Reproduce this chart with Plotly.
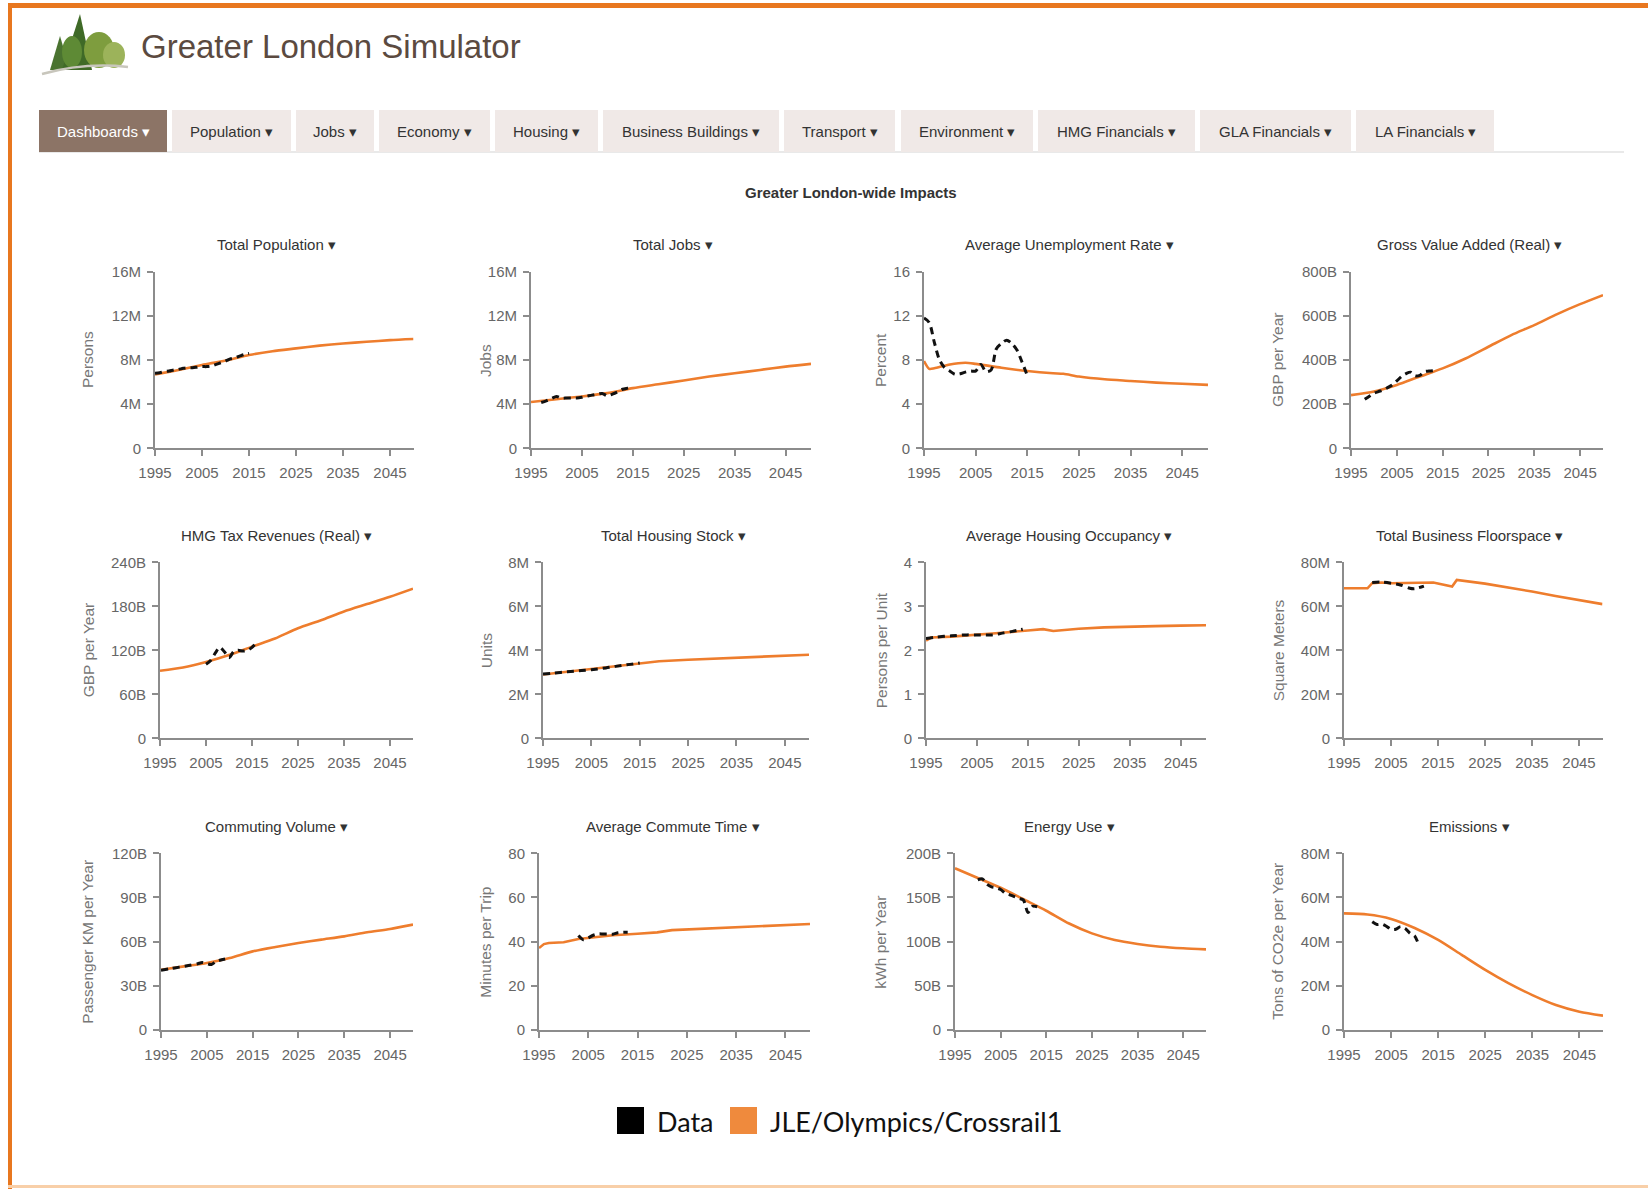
import plotly.graph_objects as go

W, H = 1648, 1189
ORANGE = "#EE7D2D"
BLACK = "#111111"
AXIS = "#8c8c8c"
TICKC = "#666666"
FONT = "Liberation Sans, Arial, sans-serif"

# ---------------- data ----------------
YEARS5 = [1995, 2000, 2005, 2010, 2015, 2020, 2025, 2030, 2035, 2040, 2045, 2050]
X_TICKS = [1995, 2005, 2015, 2025, 2035, 2045]

# Total Population (M)
pop_model = [6.7, 7.1, 7.55, 7.95, 8.45, 8.8, 9.05, 9.3, 9.5, 9.65, 9.8, 9.9]
pop_data_years = list(range(1995, 2016))
pop_data = [6.8, 6.85, 6.95, 7.0, 7.1, 7.15, 7.25, 7.3, 7.3, 7.35, 7.4, 7.4, 7.45, 7.6,
            7.75, 7.9, 8.1, 8.2, 8.35, 8.5, 8.6]

# Total Jobs (M)
jobs_model = [4.2, 4.45, 4.7, 5.0, 5.45, 5.8, 6.15, 6.5, 6.8, 7.1, 7.4, 7.65]
jobs_data_years = list(range(1997, 2016))
jobs_data = [4.15, 4.3, 4.5, 4.7, 4.55, 4.55, 4.55, 4.55, 4.62, 4.72, 4.82, 4.9, 4.97,
             4.75, 4.9, 5.1, 5.35, 5.45, 5.55]

# Average Unemployment Rate (%)
unemp_model_years = [1995, 1996, 1997, 2000, 2003, 2005, 2010, 2015, 2020, 2022, 2025,
                     2030, 2035, 2040, 2045, 2050]
unemp_model = [7.9, 7.2, 7.25, 7.6, 7.75, 7.65, 7.3, 7.0, 6.8, 6.75, 6.5, 6.25, 6.1,
               5.95, 5.85, 5.75]
unemp_data_years = list(range(1995, 2016))
unemp_data = [11.8, 11.4, 9.6, 8.0, 7.3, 7.0, 6.7, 6.75, 6.9, 7.0, 7.0, 7.6, 6.95, 7.1,
              9.0, 9.5, 9.8, 9.5, 8.9, 7.8, 6.6]

# Gross Value Added (B GBP)
gva_model = [241, 257, 287, 325, 362, 407, 460, 513, 558, 608, 653, 694]
gva_data_years = list(range(1998, 2014))
gva_data = [222, 236, 249, 257, 264, 275, 287, 305, 325, 338, 345, 328, 330, 347, 350, 352]

# HMG Tax Revenues (B GBP)
tax_model = [92, 96.5, 104, 113.5, 125, 136, 150, 161, 173, 183, 193, 204]
tax_data_years = list(range(2005, 2017))
tax_data = [101, 106, 116, 124, 118, 110, 118, 120, 119, 120, 124, 131]

# Total Housing Stock (M units)
housing_model_years = [1995, 2000, 2005, 2010, 2015, 2017, 2019, 2025, 2030, 2035, 2040,
                       2045, 2050]
housing_model = [2.9, 3.02, 3.13, 3.26, 3.39, 3.42, 3.5, 3.57, 3.62, 3.67, 3.72, 3.76, 3.8]
housing_data_years = [1995, 1997, 2000, 2003, 2005, 2008, 2010, 2013, 2015]
housing_data = [2.92, 2.96, 3.02, 3.08, 3.12, 3.2, 3.27, 3.36, 3.42]

# Average Housing Occupancy (persons per unit)
occ_model_years = [1995, 1996, 2000, 2005, 2010, 2015, 2018, 2020, 2025, 2030, 2035, 2040,
                   2045, 2050]
occ_model = [2.22, 2.29, 2.31, 2.35, 2.40, 2.45, 2.48, 2.44, 2.49, 2.52, 2.54, 2.55, 2.56, 2.57]
occ_data_years = [1995, 1997, 2000, 2003, 2005, 2008, 2010, 2012, 2014]
occ_data = [2.27, 2.30, 2.33, 2.35, 2.35, 2.35, 2.39, 2.43, 2.48]

# Total Business Floorspace (M sq m)
floor_model_years = [1995, 2000, 2001, 2003, 2005, 2010, 2014, 2018, 2019, 2025, 2030,
                     2035, 2040, 2045, 2050]
floor_model = [68.2, 68.2, 70.5, 70.8, 70.5, 70.5, 70.8, 69.0, 72.0, 70.3, 68.6, 66.7,
               64.7, 62.9, 61.0]
floor_data_years = [2001, 2003, 2005, 2007, 2009, 2010, 2012]
floor_data = [70.8, 71.0, 70.5, 69.7, 68.2, 68.0, 69.2]

# Commuting Volume (B passenger km)
commute_model = [40.9, 43.2, 45.5, 48.9, 53.4, 56.4, 59.1, 61.4, 63.6, 66.4, 68.6, 71.6]
commute_data_years = [1995, 1997, 1999, 2001, 2003, 2004, 2006, 2007, 2009]
commute_data = [40.5, 41.6, 42.7, 43.8, 45.0, 45.8, 44.5, 46.5, 48.2]

# Average Commute Time (minutes)
ctime_model_years = [1995, 1996, 1997, 2000, 2003, 2005, 2010, 2015, 2019, 2022, 2025,
                     2030, 2035, 2040, 2045, 2050]
ctime_model = [37.1, 38.9, 39.4, 39.7, 41.2, 41.7, 42.9, 43.6, 44.2, 45.2, 45.5, 46.2,
               46.7, 47.3, 47.6, 48.0]
ctime_data_years = list(range(2003, 2014))
ctime_data = [42.8, 40.9, 41.7, 42.9, 43.5, 43.5, 43.5, 43.4, 44.0, 44.2, 44.2]

# Energy Use (B kWh)
energy_model = [183, 172, 161, 148, 135, 120.5, 109.4, 101.9, 97.4, 94.3, 92.5, 91.3]
energy_data_years = list(range(2000, 2014))
energy_data = [170, 171, 165, 162, 161, 159, 155, 153, 151, 149, 147, 133, 140, 139.5]

# Emissions (M tons CO2e)
emis_model = [52.8, 52.3, 50.3, 46.2, 40.8, 34.0, 27.2, 21.1, 15.8, 11.3, 8.3, 6.5]
emis_data_years = list(range(2001, 2012))
emis_data = [49, 47.8, 48, 47, 45.6, 45.6, 46.8, 46, 43.8, 42.6, 37.8]

TABS = ["Dashboards", "Population", "Jobs", "Economy", "Housing", "Business Buildings",
        "Transport", "Environment", "HMG Financials", "GLA Financials", "LA Financials"]

panels = [
    dict(title="Total Population", ytitle="Persons", top=16, tv=[0, 4, 8, 12, 16],
         tt=["0", "4M", "8M", "12M", "16M"], mx=YEARS5, my=pop_model,
         dx=pop_data_years, dy=pop_data, smooth=True),
    dict(title="Total Jobs", ytitle="Jobs", top=16, tv=[0, 4, 8, 12, 16],
         tt=["0", "4M", "8M", "12M", "16M"], mx=YEARS5, my=jobs_model,
         dx=jobs_data_years, dy=jobs_data, smooth=True),
    dict(title="Average Unemployment Rate", ytitle="Percent", top=16, tv=[0, 4, 8, 12, 16],
         tt=["0", "4", "8", "12", "16"], mx=unemp_model_years, my=unemp_model,
         dx=unemp_data_years, dy=unemp_data, smooth=True),
    dict(title="Gross Value Added (Real)", ytitle="GBP per Year", top=800,
         tv=[0, 200, 400, 600, 800], tt=["0", "200B", "400B", "600B", "800B"],
         mx=YEARS5, my=gva_model, dx=gva_data_years, dy=gva_data, smooth=True),
    dict(title="HMG Tax Revenues (Real)", ytitle="GBP per Year", top=240,
         tv=[0, 60, 120, 180, 240], tt=["0", "60B", "120B", "180B", "240B"],
         mx=YEARS5, my=tax_model, dx=tax_data_years, dy=tax_data, smooth=True),
    dict(title="Total Housing Stock", ytitle="Units", top=8, tv=[0, 2, 4, 6, 8],
         tt=["0", "2M", "4M", "6M", "8M"], mx=housing_model_years, my=housing_model,
         dx=housing_data_years, dy=housing_data, smooth=False),
    dict(title="Average Housing Occupancy", ytitle="Persons per Unit", top=4,
         tv=[0, 1, 2, 3, 4], tt=["0", "1", "2", "3", "4"], mx=occ_model_years,
         my=occ_model, dx=occ_data_years, dy=occ_data, smooth=False),
    dict(title="Total Business Floorspace", ytitle="Square Meters", top=80,
         tv=[0, 20, 40, 60, 80], tt=["0", "20M", "40M", "60M", "80M"],
         mx=floor_model_years, my=floor_model, dx=floor_data_years, dy=floor_data,
         smooth=False),
    dict(title="Commuting Volume", ytitle="Passenger KM per Year", top=120,
         tv=[0, 30, 60, 90, 120], tt=["0", "30B", "60B", "90B", "120B"],
         mx=YEARS5, my=commute_model, dx=commute_data_years, dy=commute_data, smooth=True),
    dict(title="Average Commute Time", ytitle="Minutes per Trip", top=80,
         tv=[0, 20, 40, 60, 80], tt=["0", "20", "40", "60", "80"], mx=ctime_model_years,
         my=ctime_model, dx=ctime_data_years, dy=ctime_data, smooth=False),
    dict(title="Energy Use", ytitle="kWh per Year", top=200, tv=[0, 50, 100, 150, 200],
         tt=["0", "50B", "100B", "150B", "200B"], mx=YEARS5, my=energy_model,
         dx=energy_data_years, dy=energy_data, smooth=True),
    dict(title="Emissions", ytitle="Tons of CO2e per Year", top=80,
         tv=[0, 20, 40, 60, 80], tt=["0", "20M", "40M", "60M", "80M"], mx=YEARS5,
         my=emis_model, dx=emis_data_years, dy=emis_data, smooth=True),
]

# ---------------- layout geometry (page pixels) ----------------
X_SPANS = [(155, 413.5), (531, 811), (924, 1208), (1351, 1603),
           (160, 413), (543, 809), (926, 1206), (1344, 1602.5),
           (161, 413), (539, 810), (955, 1206), (1344, 1603)]
ROWS = [(271.7, 448.3), (562.3, 738.3), (853.3, 1030)]
TITLE_X = [276, 673, 1069, 1469]
YTITLE_X = [88, 486, 881, 1278]


def px(x):
    return x / W


def py(y):
    return 1 - y / H


fig = go.Figure()
layout = dict(width=W, height=H,
              margin=dict(l=0, r=0, t=0, b=0, pad=0, autoexpand=False),
              paper_bgcolor="white", plot_bgcolor="white", showlegend=False,
              font=dict(family=FONT, color="#333"))
annotations = []
shapes = []

for i, p in enumerate(panels):
    n = i + 1
    sfx = "" if n == 1 else str(n)
    r, c = divmod(i, 4)
    x0, x1 = X_SPANS[i]
    ytop, ybot = ROWS[r]
    fig.add_trace(go.Scatter(
        x=p["mx"], y=p["my"], mode="lines", xaxis="x" + sfx, yaxis="y" + sfx,
        line=dict(color=ORANGE, width=2.6,
                  shape="spline" if p["smooth"] else "linear", smoothing=0.7),
        hoverinfo="skip"))
    fig.add_trace(go.Scatter(
        x=p["dx"], y=p["dy"], mode="lines", xaxis="x" + sfx, yaxis="y" + sfx,
        line=dict(color=BLACK, width=3, dash="7px,5px", shape="spline", smoothing=0.8),
        hoverinfo="skip"))
    layout["xaxis" + sfx] = dict(
        domain=[px(x0), px(x1)], range=[1995, 2050], anchor="y" + sfx,
        tickvals=X_TICKS, ticktext=[str(v) for v in X_TICKS],
        showline=True, linecolor=AXIS, linewidth=2, ticks="outside", ticklen=6,
        tickwidth=1.5, tickcolor=AXIS, showgrid=False, zeroline=False, automargin=False,
        tickfont=dict(family=FONT, size=15, color=TICKC), ticklabelstandoff=4,
        fixedrange=True)
    layout["yaxis" + sfx] = dict(
        domain=[py(ybot), py(ytop)], range=[0, p["top"]], anchor="x" + sfx,
        tickvals=p["tv"], ticktext=p["tt"],
        showline=True, linecolor=AXIS, linewidth=2, ticks="outside", ticklen=6,
        tickwidth=1.5, tickcolor=AXIS, showgrid=False, zeroline=False, automargin=False,
        tickfont=dict(family=FONT, size=15, color=TICKC), ticklabelstandoff=3,
        fixedrange=True)
    annotations.append(dict(
        x=px(TITLE_X[c]), y=py(ytop - 27), xref="paper", yref="paper",
        text=p["title"] + " \u25BE", showarrow=False, xanchor="center", yanchor="middle",
        font=dict(family=FONT, size=15, color="#333")))
    annotations.append(dict(
        x=px(YTITLE_X[c]), y=py((ytop + ybot) / 2), xref="paper", yref="paper",
        text=p["ytitle"], textangle=-90, showarrow=False, xanchor="center",
        yanchor="middle", font=dict(family=FONT, size=15.5, color="#777")))

# ---------------- page frame ----------------
shapes.append(dict(type="rect", xref="paper", yref="paper", x0=px(8), x1=1,
                   y0=py(8), y1=py(3), fillcolor="#E8771F", line=dict(width=0)))
shapes.append(dict(type="rect", xref="paper", yref="paper", x0=px(8), x1=px(12),
                   y0=py(1189), y1=py(3), fillcolor="#E8771F", line=dict(width=0)))
shapes.append(dict(type="rect", xref="paper", yref="paper", x0=px(8), x1=1,
                   y0=py(1188), y1=py(1185), fillcolor="#F8CFA8", line=dict(width=0)))


# logo (simple trees)
def ell(cx, cy, rx, ry, color):
    return dict(type="circle", xref="paper", yref="paper", x0=px(cx - rx), x1=px(cx + rx),
                y0=py(cy + ry), y1=py(cy - ry), fillcolor=color, line=dict(width=0))


def tri(pts, color):
    path = "M " + " L ".join(f"{px(a)},{py(b)}" for a, b in pts) + " Z"
    return dict(type="path", xref="paper", yref="paper", path=path, fillcolor=color,
                line=dict(width=0))


shapes.append(tri([(50, 70), (60, 36), (70, 70)], "#4A7330"))
shapes.append(tri([(62, 70), (80, 14), (92, 70)], "#3F6A27"))
shapes.append(ell(99, 50, 15, 18, "#7E9D3E"))
shapes.append(ell(114, 55, 11, 13, "#9CB35A"))
shapes.append(ell(72, 52, 10, 16, "#5E8A35"))
shapes.append(dict(type="path", xref="paper", yref="paper",
                   path=f"M {px(42)},{py(74)} Q {px(85)},{py(62)} {px(128)},{py(67)}",
                   line=dict(color="#C8C6BC", width=2.5)))

annotations.append(dict(x=px(139), y=py(47), xref="paper", yref="paper",
                        text="Greater London Simulator", showarrow=False, xanchor="left",
                        yanchor="middle", font=dict(family=FONT, size=33, color="#5B4A40")))

# tabs
TAB_X = [(39, 167), (172, 291), (296, 374), (379, 490), (495, 598), (603, 779),
         (784, 895), (901, 1033), (1038, 1195), (1200, 1351), (1356, 1494)]
shapes.append(dict(type="line", xref="paper", yref="paper", x0=px(39), x1=px(1624),
                   y0=py(152), y1=py(152), line=dict(color="#E2E2E2", width=1.5)))
for k, (label, (a, b)) in enumerate(zip(TABS, TAB_X)):
    active = k == 0
    shapes.append(dict(type="rect", xref="paper", yref="paper", x0=px(a), x1=px(b),
                       y0=py(152), y1=py(110),
                       fillcolor="#8C7466" if active else "#F0E9E7", line=dict(width=0)))
    annotations.append(dict(x=px((a + b) / 2), y=py(132), xref="paper", yref="paper",
                            text=label + " \u25BE", showarrow=False, xanchor="center",
                            yanchor="middle",
                            font=dict(family=FONT, size=15,
                                      color="white" if active else "#333")))

annotations.append(dict(x=px(851), y=py(193), xref="paper", yref="paper",
                        text="<b>Greater London-wide Impacts</b>", showarrow=False,
                        xanchor="center", yanchor="middle",
                        font=dict(family=FONT, size=15, color="#333")))

# legend
LEGEND = [("Data", "#000000", 617), ("JLE/Olympics/Crossrail1", "#EF8A3D", 730)]
for label, col, lx in LEGEND:
    shapes.append(dict(type="rect", xref="paper", yref="paper", x0=px(lx), x1=px(lx + 27),
                       y0=py(1134), y1=py(1107), fillcolor=col, line=dict(width=0)))
    annotations.append(dict(x=px(lx + 38), y=py(1121), xref="paper", yref="paper",
                            text=label, showarrow=False, xanchor="left", yanchor="middle",
                            font=dict(family="Lato, Open Sans, sans-serif", size=27,
                                      color="#111")))

layout["annotations"] = annotations
layout["shapes"] = shapes
fig.update_layout(**layout)
fig.write_html("out.html", post_script="document.body.style.margin='0';",
               config={"displayModeBar": False})
